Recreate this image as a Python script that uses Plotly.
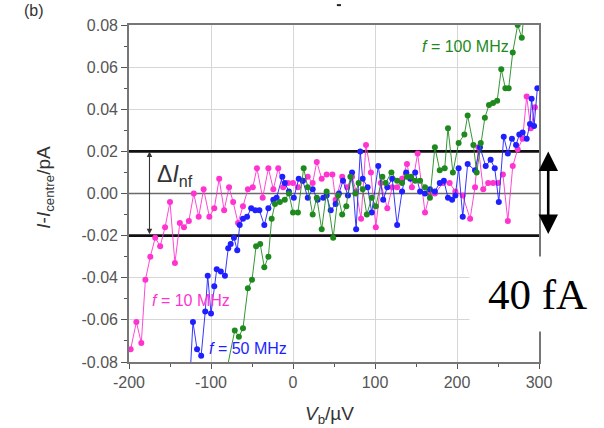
import plotly.graph_objects as go

# Bias voltage (µV) and current offset I - I_centre (pA) for the three drive frequencies
vb_10 = [-198, -191, -185, -180, -174, -168, -162, -156, -150, -144, -138, -133, -127, -121,
         -115, -109, -102, -96, -90, -84, -78, -73, -67, -61, -55, -49, -44, -37, -30, -24,
         -18, -12, -6, 0, 6, 12, 18, 24, 29, 35, 41, 48, 52, 60, 66, 72, 77, 83, 89, 95,
         101, 107, 115, 121, 127, 133, 139, 145, 152, 161, 167, 173, 183, 191, 198, 207,
         216, 222, 226, 232, 238, 244, 250, 256, 262, 268, 274, 280, 285, 290, 295]
di_10 = [-0.074, -0.061, -0.071, -0.041, -0.030, -0.021, -0.025, -0.016, -0.004, -0.033,
         -0.014, -0.016, -0.013, 0.000, -0.011, 0.002, -0.011, -0.007, 0.007, -0.008,
         0.003, -0.004, -0.014, -0.006, 0.002, 0.003, 0.012, -0.002, 0.012, 0.002,
         0.012, 0.003, 0.005, 0.005, 0.003, 0.006, 0.008, 0.005, 0.015, 0.007,
         0.009, 0.009, -0.003, 0.008, 0.003, 0.008, 0.001, -0.012, 0.023, 0.010,
         -0.016, 0.005, -0.007, 0.003, 0.003, 0.007, 0.014, 0.003, 0.019, -0.009,
         0.000, 0.000, 0.005, 0.005, 0.001, -0.001, -0.012, 0.003, 0.022, 0.002,
         0.005, 0.005, 0.005, 0.009, -0.013, 0.013, 0.021, 0.026, 0.046, 0.031, 0.041]

vb_50 = [-126, -122, -117, -112, -107, -104, -100, -96, -93, -88, -83, -79, -76, -72, -68,
         -65, -61, -56, -51, -46, -41, -35, -30, -24, -20, -13, -10, -5, 1, 7, 12, 18, 24,
         30, 37, 41, 46, 52, 56, 61, 67, 72, 77, 82, 85, 91, 96, 104, 110, 115, 121, 127,
         133, 138, 143, 149, 155, 161, 167, 173, 179, 184, 189, 194, 198, 202, 207, 213,
         222, 228, 235, 241, 246, 251, 257, 262, 267, 272, 276, 280, 285, 289, 291, 294, 298]
di_50 = [-0.090, -0.061, -0.074, -0.077, -0.056, -0.039, -0.057, -0.044, -0.036, -0.037,
         -0.039, -0.026, -0.024, -0.021, -0.027, -0.015, -0.012, -0.011, -0.007, -0.008,
         -0.008, -0.015, -0.007, -0.003, -0.002, 0.008, 0.005, 0.001, -0.002, 0.007,
         0.006, -0.002, 0.002, -0.003, -0.002, -0.001, -0.008, -0.005, 0.000, 0.006,
         -0.001, 0.010, -0.017, 0.020, 0.007, 0.003, -0.009, 0.013, -0.003, 0.003,
         0.007, -0.015, 0.001, 0.010, 0.007, 0.010, 0.001, 0.000, 0.002, 0.001,
         0.005, 0.006, -0.002, -0.003, -0.001, 0.012, -0.011, 0.014, 0.011, 0.022,
         0.013, 0.016, 0.012, -0.004, 0.027, 0.019, 0.026, 0.023, 0.028, 0.029,
         0.026, 0.033, 0.045, 0.032, 0.050]

vb_100 = [-84, -71, -66, -61, -55, -50, -45, -40, -35, -30, -26, -22, -16, -10, -5, 0, 6,
          13, 18, 24, 29, 35, 41, 49, 55, 60, 65, 70, 76, 80, 85, 90, 96, 101, 109, 113,
          120, 127, 133, 139, 144, 149, 155, 161, 167, 173, 179, 185, 189, 195, 202, 209,
          213, 220, 224, 229, 234, 239, 244, 249, 254, 259, 263, 268, 274, 279, 284]
di_100 = [-0.090, -0.065, -0.068, -0.064, -0.045, -0.041, -0.025, -0.024, -0.035, -0.030,
          -0.012, -0.005, -0.004, -0.003, 0.000, -0.009, -0.009, 0.012, 0.003, -0.010,
          -0.002, -0.017, 0.001, -0.021, -0.001, -0.010, -0.006, 0.008, 0.000, 0.005,
          0.002, -0.010, -0.002, -0.006, 0.008, 0.005, 0.010, 0.006, 0.005, 0.008,
          0.008, 0.006, 0.006, 0.003, -0.002, 0.022, 0.011, 0.012, 0.031, 0.010,
          0.024, 0.028, 0.037, 0.023, 0.010, 0.024, 0.036, 0.042, 0.043, 0.044,
          0.059, 0.050, 0.050, 0.067, 0.080, 0.074, 0.095]

noise_band = [-0.02, 0.02]
x_ticks = [-200, -100, 0, 100, 200, 300]
y_ticks = [-0.08, -0.06, -0.04, -0.02, 0.00, 0.02, 0.04, 0.06, 0.08]

C10, C50, C100 = "#ff33d0", "#1f1fff", "#1e8a1e"
TICK_FONT = dict(family="Liberation Sans, Arial, sans-serif", size=16, color="#555555")

fig = go.Figure()
for xs, ys, col in [(vb_10, di_10, C10), (vb_50, di_50, C50), (vb_100, di_100, C100)]:
    fig.add_trace(go.Scatter(
        x=xs, y=ys, mode="lines+markers",
        line=dict(color=col, width=0.9),
        marker=dict(color=col, size=6, line=dict(width=0)),
        showlegend=False,
    ))

shapes = []
# noise band limits
for yv in noise_band:
    shapes.append(dict(type="line", xref="x", yref="y", x0=-200, x1=300, y0=yv, y1=yv,
                       line=dict(color="#111111", width=2.6), layer="between"))
# zero current reference
shapes.append(dict(type="line", xref="x", yref="y", x0=-200, x1=300, y0=0, y1=0,
                   line=dict(color="#6a6a6a", width=1.6), layer="between"))
# small dash above the frame
shapes.append(dict(type="line", xref="paper", yref="paper", x0=0.507, x1=0.517,
                   y0=1.059, y1=1.059, line=dict(color="#222222", width=2)))

ann = []
ann.append(dict(text="(b)", xref="paper", yref="paper", x=-0.261, y=1.043,
                xanchor="left", yanchor="middle", showarrow=False,
                font=dict(family="Liberation Sans, Arial, sans-serif", size=16, color="#333333")))
ann.append(dict(text="<i>I</i>-<i>I</i><sub>centre</sub>/pA", xref="paper", yref="paper",
                x=-0.205, y=0.52, xanchor="center", yanchor="middle", textangle=-90,
                showarrow=False,
                font=dict(family="Liberation Sans, Arial, sans-serif", size=19, color="#333333")))
ann.append(dict(text="<i>V</i><sub>b</sub>/µV", xref="paper", yref="paper",
                x=0.49, y=-0.158, xanchor="center", yanchor="middle", showarrow=False,
                font=dict(family="Liberation Sans, Arial, sans-serif", size=19, color="#333333")))
ann.append(dict(text="Δ<i>I</i><sub>nf</sub>", xref="x", yref="y", x=-168, y=0.0085,
                xanchor="left", yanchor="middle", showarrow=False,
                font=dict(family="Liberation Sans, Arial, sans-serif", size=23, color="#333333")))
# thin double arrow marking the noise band
ann.append(dict(text="", xref="x", yref="y", x=-175, y=0.02, axref="x", ayref="y",
                ax=-175, ay=-0.02, showarrow=True, arrowside="end+start", arrowhead=2,
                arrowsize=1, arrowwidth=1.1, arrowcolor="#333333", standoff=0, startstandoff=0))
# bold double arrow right of the frame
ann.append(dict(text="", xref="paper", yref="y", x=1.0225, y=0.02, ax=0, ay=84,
                showarrow=True, arrowside="end+start", arrowhead=2, arrowsize=1.5,
                arrowwidth=2.6, arrowcolor="#000000", standoff=0, startstandoff=0))
ann.append(dict(text="40 fA", xref="paper", yref="paper", x=0.996, y=0.2018,
                xanchor="center", yanchor="middle", showarrow=False, bgcolor="#ffffff",
                width=133, height=72,
                font=dict(family="Liberation Serif, Times New Roman, serif", size=43, color="#000000")))
for txt, xv, yv, col in [("<i>f</i> = 10 MHz", -174, -0.051, C10),
                         ("<i>f</i> = 50 MHz", -105, -0.0735, C50),
                         ("<i>f</i> = 100 MHz", 155, 0.070, C100)]:
    ann.append(dict(text=txt, xref="x", yref="y", x=xv, y=yv, xanchor="left",
                    yanchor="middle", showarrow=False,
                    font=dict(family="Liberation Sans, Arial, sans-serif", size=16, color=col)))

fig.update_layout(
    width=604, height=428,
    margin=dict(l=129, r=65, t=25, b=66),
    paper_bgcolor="#ffffff", plot_bgcolor="#ffffff",
    shapes=shapes, annotations=ann,
)
fig.update_xaxes(
    range=[-200, 300], tickvals=x_ticks, ticktext=[str(v) for v in x_ticks],
    showgrid=True, gridcolor="#d6d6d6", gridwidth=1, zeroline=False,
    showline=True, linecolor="#777777", linewidth=1.6, mirror=True,
    ticks="outside", ticklen=5, tickcolor="#555555", tickwidth=1.2,
    minor=dict(ticks="outside", ticklen=3, tickcolor="#555555", dtick=50, showgrid=False),
    tickfont=TICK_FONT,
)
fig.update_yaxes(
    range=[-0.08, 0.08], tickvals=y_ticks, ticktext=[f"{v:.2f}" for v in y_ticks],
    showgrid=True, gridcolor="#d6d6d6", gridwidth=1, zeroline=False,
    showline=True, linecolor="#777777", linewidth=1.6, mirror=True,
    ticks="outside", ticklen=6, tickcolor="#555555", tickwidth=1.2,
    minor=dict(ticks="outside", ticklen=3, tickcolor="#555555", dtick=0.01, showgrid=False),
    tickfont=TICK_FONT,
)

fig.write_html("out.html")
